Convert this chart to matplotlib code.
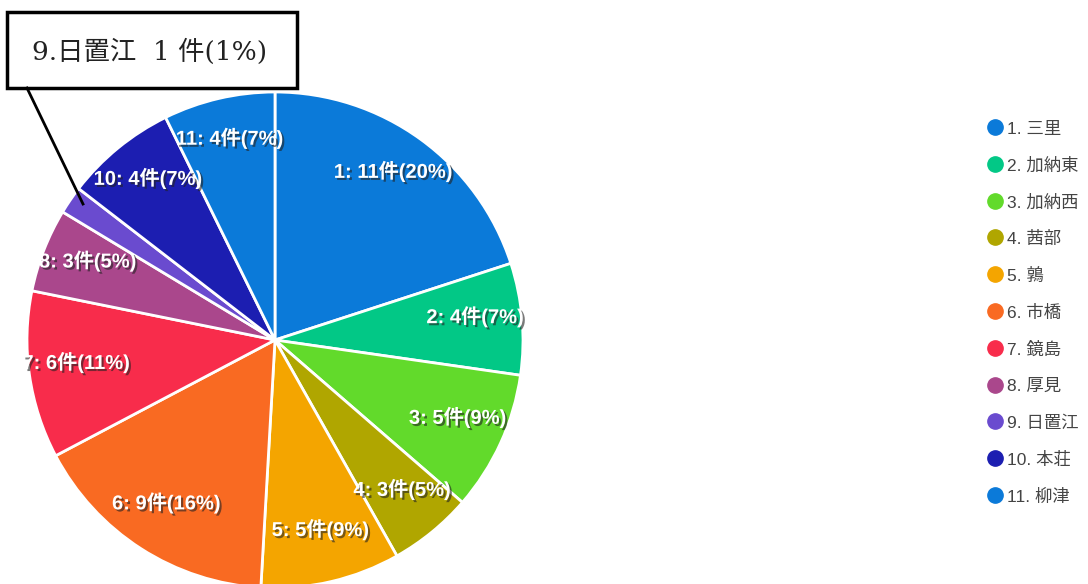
import matplotlib.pyplot as plt
import matplotlib.patheffects as pe
import numpy as np

# 地区別の件数
areas = ['三里', '加納東', '加納西', '茜部', '鶉', '市橋', '鏡島', '厚見', '日置江', '本荘', '柳津']
counts = [11, 4, 5, 3, 5, 9, 6, 3, 1, 4, 4]
colors = ['#0b7ad9', '#02c886', '#62da2b', '#b0a600', '#f4a500', '#f96a22',
          '#f82c4b', '#aa478c', '#6a4bcf', '#1c1eb1', '#0b7ad9']
callout = '9.日置江  1 件(1%)'

W, H = 1088, 584
fig = plt.figure(figsize=(W / 100, H / 100), dpi=100)

# pie centre / radius in pixels (from top-left)
cx, cy, R = 275, 340, 248
ax = fig.add_axes([(cx - R) / W, (H - cy - R) / H, 2 * R / W, 2 * R / H])

total = sum(counts)
wedges, _ = ax.pie(counts, colors=colors, startangle=90, counterclock=False,
                   radius=1.0, wedgeprops=dict(edgecolor='white', linewidth=2))
ax.set_xlim(-1, 1)
ax.set_ylim(-1, 1)
ax.set_aspect('equal')
ax.axis('off')

shadow = [pe.withSimplePatchShadow(offset=(1.5, -1.5), shadow_rgbFace='#222222', alpha=0.6)]
lab_font = ['Liberation Sans', 'Noto Sans CJK JP']
start = 90.0
for i, n in enumerate(counts):
    span = 360.0 * n / total
    mid = np.deg2rad(start - span / 2)
    start -= span
    if n / total < 0.03:
        continue
    pct = round(n / total * 100)
    ax.text(0.81 * np.cos(mid), 0.81 * np.sin(mid) + 0.025, f'{i + 1}: {n}件({pct}%)',
            ha='center', va='center', color='white', fontsize=14.5,
            fontweight='bold', family=lab_font, path_effects=shadow)

# legend
leg_y0, leg_dy = 127, 36.8
for i, (name, c) in enumerate(zip(areas, colors)):
    y = H - (leg_y0 + i * leg_dy)
    fig.lines.append(plt.Line2D([995 / W], [y / H], marker='o', markersize=11,
                                color=c, transform=fig.transFigure))
    fig.text(1007 / W, (y - 2) / H, f'{i + 1}. {name}', ha='left', va='center',
             fontsize=12.5, color='#444444', family=['Liberation Sans', 'Noto Sans CJK JP'])

# callout for the small slice
fig.lines.append(plt.Line2D([27 / W, 83 / W], [(H - 88) / H, (H - 204) / H],
                            color='black', linewidth=2, transform=fig.transFigure))
fig.patches.append(plt.Rectangle((7 / W, (H - 88) / H), 290 / W, 76 / H,
                                 facecolor='white', edgecolor='black', linewidth=2.5,
                                 transform=fig.transFigure))
fig.text(150 / W, (H - 52) / H, callout, ha='center', va='center', fontsize=19,
         color='#222222', family=['DejaVu Serif', 'Noto Sans CJK JP'])

fig.savefig('out.png', dpi=100)
